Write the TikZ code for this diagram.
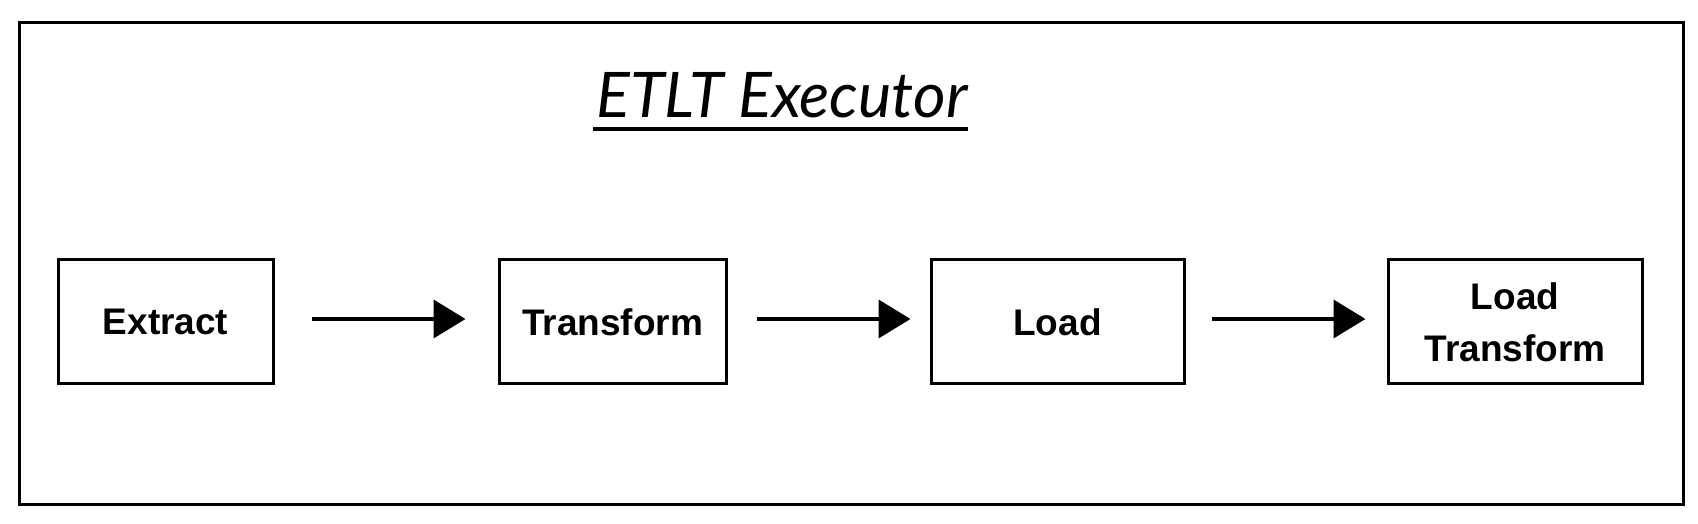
\documentclass[tikz,border=0pt]{standalone}
\usepackage{fontspec}
\setmainfont{Liberation Sans}
\newfontfamily\titlefont{Lato}
\usetikzlibrary{arrows.meta,calc}
\tikzset{
  stagebox/.style={draw=black, line width=3pt, minimum height=124pt, inner sep=0pt,
    align=center, font=\fontsize{37}{52}\selectfont\bfseries},
  flowarrow/.style={line width=4pt, -{Triangle[length=32pt,width=38pt]}},
  frame/.style={draw=black, line width=3pt}
}
\begin{document}
\begin{tikzpicture}[x=1pt,y=1pt]
\useasboundingbox (0,0) rectangle (1698,524);
\draw[frame] (19,501) rectangle (1683,19);
\node[anchor=base, inner sep=0pt] (title) at (782,406)
  {\resizebox{371pt}{!}{\titlefont\itshape ETLT Executor}};
\coordinate (ul1) at (593,395);
\coordinate (ul2) at (968,395);
\draw[line width=3.5pt] (ul1) -- (ul2);
\node[stagebox, minimum width=215pt] (ext) at (165.5,202) {Extract};
\node[stagebox, minimum width=227pt] (tr) at (612.5,202) {Transform};
\node[stagebox, minimum width=253pt] (ld) at (1057.5,202) {Load};
\node[stagebox, minimum width=254pt] (lt) at (1515,202) {Load\\Transform};
\draw[flowarrow, shorten <=37pt, shorten >=32pt] ([yshift=3pt]ext.east) -- ([yshift=3pt]tr.west);
\draw[flowarrow, shorten <=29pt, shorten >=19pt] ([yshift=3pt]tr.east) -- ([yshift=3pt]ld.west);
\draw[flowarrow, shorten <=26pt, shorten >=21pt] ([yshift=3pt]ld.east) -- ([yshift=3pt]lt.west);
\end{tikzpicture}
\end{document}
